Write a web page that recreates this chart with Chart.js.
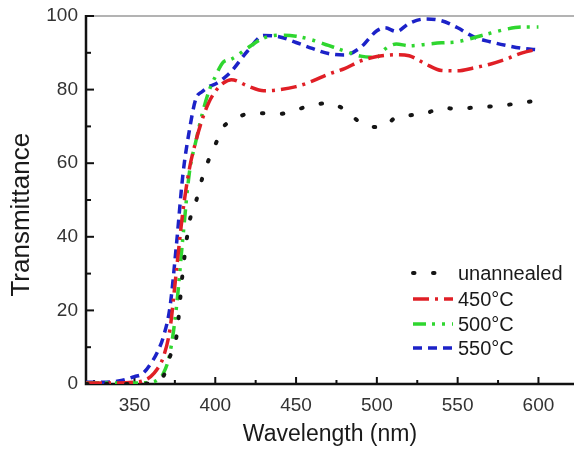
<!DOCTYPE html>
<html>
<head>
<meta charset="utf-8">
<title>Transmittance spectra</title>
<script src="https://cdn.jsdelivr.net/npm/chart.js@4"></script>
<style>
  html, body { margin: 0; padding: 0; background: #fff; }
  #wrap { width: 574px; height: 453px; }
</style>
</head>
<body>
<div id="wrap"><canvas id="c" width="574" height="453"></canvas></div>
<script>
// Wavelength sampling (nm)
const wavelengths = [320, 330, 340, 350, 355, 360, 364, 368, 372, 376, 380, 384, 388, 392, 396, 400, 405, 410,
  420, 430, 440, 450, 460, 470, 480, 490, 500, 505, 512, 520, 530, 540, 550, 560, 570, 580, 590, 600];

// Transmittance (%) for each sample
const unannealed = [0, 0, 0, 0, 0, 0.3, 1, 2.2, 7.5, 13, 31, 44, 49.5, 56, 61, 65, 69.8, 71.5,
  73.4, 73.6, 73.4, 74.5, 75.8, 76.3, 74.6, 71, 69.8, 70.2, 72.5, 73, 73.5, 75, 74.8, 75.1, 75.4, 75.8, 76.5, 77];
const t450 = [0.3, 0.3, 0.3, 0.5, 0.8, 2, 4, 7.5, 15, 31, 47, 58.5, 66, 72, 76.5, 79.5, 81.8, 82.7,
  81, 79.7, 80, 80.8, 82.3, 84.2, 85.7, 87.8, 89, 89.3, 89.5, 89.2, 87, 85.2, 85.1, 85.9, 86.9, 88.3, 90, 91];
const t500 = [0.3, 0.3, 0.3, 0.3, 0.3, 0.5, 1, 3, 8.5, 21, 40, 57.5, 66, 73.5, 79.5, 83.5, 87.5, 88.3,
  91.3, 94, 94.8, 94.5, 93.5, 92, 90.5, 89.1, 88.8, 91, 92.4, 91.9, 92.3, 92.7, 93, 94.1, 95.3, 96.4, 97, 97];
const t550 = [0.5, 0.5, 0.8, 2, 2.8, 5.5, 8.5, 13, 21, 38, 57, 69, 77.5, 79.5, 80.8, 81.5, 83, 85,
  90.5, 94.7, 94.3, 92.8, 91.2, 89.8, 89.4, 91.5, 96, 96.8, 95.8, 98, 99.2, 98.7, 96.8, 94.3, 93, 92, 91.2, 90.8];

const seriesLabels = ['unannealed', '450\u00B0C', '500\u00B0C', '550\u00B0C'];
const seriesValues = [unannealed, t450, t500, t550];
const seriesColors = ['#151515', '#e01f26', '#2fd62f', '#1c22c8'];
const seriesDashes = [[1.5, 18.5], [16, 6, 3, 6], [13, 6, 3, 7, 3, 7], [9, 6]];
const seriesWidths = [4, 3.5, 3.5, 3.5];

const FONT = '"Liberation Sans", Arial, Helvetica, sans-serif';

const datasets = seriesValues.map((vals, i) => ({
  label: seriesLabels[i],
  data: wavelengths.map((w, k) => ({ x: w, y: vals[k] })),
  borderColor: seriesColors[i],
  backgroundColor: seriesColors[i],
  borderWidth: seriesWidths[i],
  borderDash: seriesDashes[i],
  borderCapStyle: i === 0 ? 'round' : 'butt',
  pointRadius: 0,
  fill: false,
  cubicInterpolationMode: 'monotone'
}));

// Axis frame with inward major/minor ticks, plus the vertical axis title
const frame = {
  id: 'frame',
  beforeDatasetsDraw(chart) {
    const { ctx, chartArea: a } = chart;
    const xs = chart.scales.x, ys = chart.scales.y;
    ctx.save();
    ctx.strokeStyle = '#9a9a9a';
    ctx.lineWidth = 1.5;
    ctx.beginPath();
    ctx.moveTo(a.left, a.top);
    ctx.lineTo(a.right, a.top);
    ctx.stroke();

    ctx.strokeStyle = '#111';
    ctx.lineWidth = 2.5;
    ctx.beginPath();
    ctx.moveTo(a.left, a.top - 1);
    ctx.lineTo(a.left, a.bottom);
    ctx.lineTo(a.right, a.bottom);
    ctx.stroke();

    ctx.lineWidth = 2;
    xs.ticks.forEach(t => {
      const px = xs.getPixelForValue(t.value);
      const len = t.value % 50 === 0 ? 7 : 4;
      ctx.beginPath();
      ctx.moveTo(px, a.bottom);
      ctx.lineTo(px, a.bottom - len);
      ctx.stroke();
    });
    ys.ticks.forEach(t => {
      const py = ys.getPixelForValue(t.value);
      const len = t.value % 20 === 0 ? 8 : 5;
      ctx.beginPath();
      ctx.moveTo(a.left, py);
      ctx.lineTo(a.left + len, py);
      ctx.stroke();
    });

    ctx.translate(22, ys.getPixelForValue(46));
    ctx.rotate(-Math.PI / 2);
    ctx.font = '26px ' + FONT;
    ctx.fillStyle = '#1a1a1a';
    ctx.textAlign = 'center';
    ctx.textBaseline = 'middle';
    ctx.fillText('Transmittance', 0, 0);
    ctx.restore();
  }
};

// Line-sample legend in the lower right of the plot
const sampleLegend = {
  id: 'sampleLegend',
  afterDraw(chart) {
    const { ctx } = chart;
    const x0 = 413, x1 = 453, tx = 458;
    const rows = [273, 299, 324, 348];
    ctx.save();
    ctx.font = '20px ' + FONT;
    ctx.textBaseline = 'middle';
    ctx.textAlign = 'left';
    chart.data.datasets.forEach((ds, i) => {
      const y = rows[i];
      ctx.strokeStyle = ds.borderColor;
      ctx.lineWidth = ds.borderWidth;
      ctx.lineCap = ds.borderCapStyle;
      ctx.setLineDash(ds.borderDash);
      ctx.beginPath();
      ctx.moveTo(x0, y);
      ctx.lineTo(x1, y);
      ctx.stroke();
      ctx.setLineDash([]);
      ctx.fillStyle = '#1a1a1a';
      ctx.fillText(ds.label, tx, y + 1);
    });
    ctx.restore();
  }
};

new Chart(document.getElementById('c'), {
  type: 'line',
  data: { datasets },
  options: {
    responsive: false,
    animation: false,
    layout: { padding: { top: 16, right: 0, left: 0, bottom: 0 } },
    plugins: { legend: { display: false }, tooltip: { enabled: false } },
    scales: {
      x: {
        type: 'linear',
        min: 320,
        max: 622,
        grid: { display: false },
        border: { display: false },
        ticks: {
          stepSize: 25,
          includeBounds: false,
          autoSkip: false,
          maxRotation: 0,
          padding: 2,
          color: '#333',
          font: { family: FONT, size: 19 },
          callback: v => (v % 50 === 0 ? String(v) : '')
        },
        title: {
          display: true,
          text: 'Wavelength (nm)',
          color: '#1a1a1a',
          font: { family: FONT, size: 23 },
          padding: { top: 0, bottom: 5 }
        },
        afterFit: s => { s.height = 69; }
      },
      y: {
        min: 0,
        max: 100,
        grid: { display: false },
        border: { display: false },
        ticks: {
          stepSize: 10,
          padding: 0,
          color: '#333',
          font: { family: FONT, size: 19 },
          callback: v => (v % 20 === 0 ? String(v) : '')
        },
        afterFit: s => { s.width = 86; }
      }
    }
  },
  plugins: [frame, sampleLegend]
});
</script>
</body>
</html>
